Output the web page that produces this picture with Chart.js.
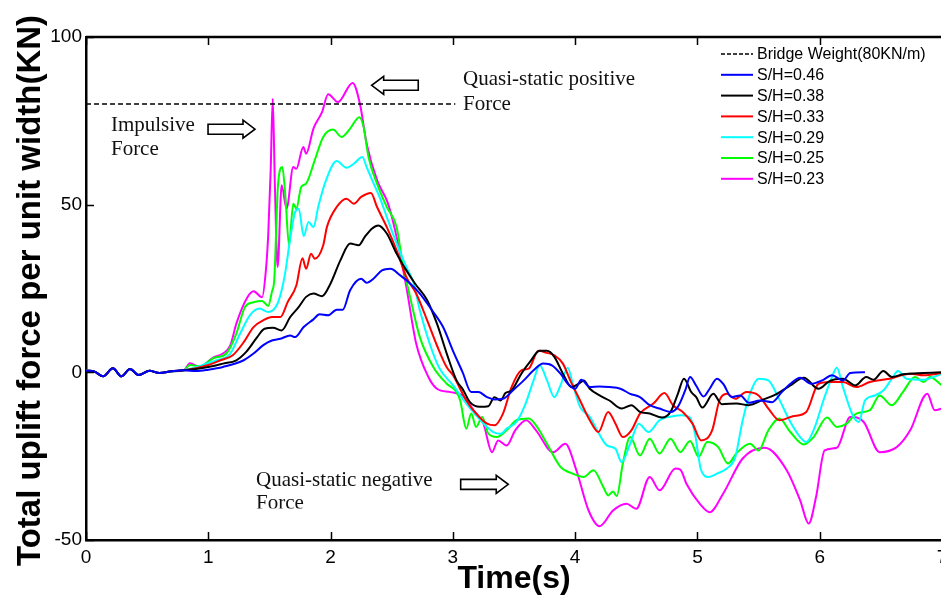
<!DOCTYPE html>
<html>
<head>
<meta charset="utf-8">
<script src="https://cdn.jsdelivr.net/npm/chart.js@4.4.1/dist/chart.umd.min.js"></script>
<style>
  html, body { margin: 0; padding: 0; background: #fff; overflow: hidden; }
  #wrap { width: 960px; height: 598px; }
</style>
</head>
<body>
<div id="wrap"><canvas id="upliftChart" width="960" height="598"></canvas></div>
<script>
// time (s) / uplift force (KN per unit width) pairs for each S/H run
const xTicks = [0, 1, 2, 3, 4, 5, 6, 7];
const yTicks = [-50, 0, 50, 100];

const bridgeWeight = [[0, 80], [3.02, 80]];

// all runs sit together before the wave reaches the deck
const calmStart = [[0, 0.5], [0.07, 0.2], [0.14, -1.2], [0.22, 1.2], [0.29, -1.2], [0.36, 1.0],
  [0.43, -0.8], [0.52, 0.5], [0.6, -0.2], [0.7, 0.3], [0.8, 0.6]];

const sh046 = calmStart.concat([[0.9, 0.4], [1.0, 0.8], [1.12, 1.6], [1.29, 3.6], [1.37, 5.6], [1.45, 8.1],
  [1.52, 9.5], [1.59, 10.0], [1.67, 11.0], [1.71, 10.5], [1.78, 13.5], [1.86, 15.8], [1.91, 17.3],
  [1.98, 17.0], [2.05, 18.7], [2.10, 18.7], [2.16, 24.5], [2.25, 27.9], [2.295, 26.7], [2.35, 27.9],
  [2.42, 30.4], [2.49, 30.9], [2.57, 28.9], [2.65, 26.5], [2.73, 23.5], [2.83, 18.5], [2.92, 13.5],
  [3.0, 6.5], [3.08, 0], [3.15, -5.9], [3.21, -5.9], [3.28, -7.4], [3.34, -8.1], [3.41, -7.9],
  [3.49, -5.4], [3.58, -2.4], [3.66, 0.6], [3.74, 2.6], [3.81, 2.1], [3.88, -0.4], [3.94, -3.4],
  [4.0, -4.9], [4.05, -2.2], [4.12, -4.4], [4.20, -4.2], [4.28, -4.4], [4.37, -4.9], [4.45, -6.4],
  [4.53, -7.4], [4.61, -9.8], [4.69, -10.8], [4.78, -11.8], [4.84, -10.3], [4.90, -5.4], [4.94, -1.4],
  [4.99, -4.0], [5.05, -7.2], [5.10, -4.9], [5.16, -1.9], [5.21, -3.4], [5.28, -7.4], [5.35, -6.9],
  [5.42, -9.1], [5.51, -8.4], [5.61, -8.9], [5.69, -5.9], [5.76, -3.4], [5.84, -1.6], [5.93, -3.4],
  [6.02, -2.4], [6.10, -0.9], [6.19, -2.4], [6.25, -0.2], [6.37, 0]]);

const sh038 = calmStart.concat([[0.9, 1.0], [1.0, 1.6], [1.12, 2.6], [1.23, 3.6], [1.31, 6.1], [1.40, 10.5],
  [1.46, 13.0], [1.53, 13.3], [1.60, 12.5], [1.67, 16.5], [1.74, 19.5], [1.80, 22.5], [1.86, 23.5],
  [1.93, 22.7], [2.0, 26.5], [2.08, 33.4], [2.16, 38.4], [2.23, 37.9], [2.28, 40.4], [2.34, 42.9],
  [2.39, 43.8], [2.46, 41.4], [2.54, 35.4], [2.62, 30.4], [2.69, 26.5], [2.79, 21.5], [2.87, 14.5],
  [2.95, 5.6], [3.03, -2.4], [3.08, -5.0], [3.14, -8.9], [3.22, -10.3], [3.29, -10.1], [3.34, -7.4],
  [3.39, -8.4], [3.43, -6.2], [3.48, -5.4], [3.56, -0.4], [3.63, 3.1], [3.71, 6.4], [3.77, 6.4],
  [3.83, 4.6], [3.90, -0.4], [3.97, -4.4], [4.03, -3.4], [4.07, -2.4], [4.12, -4.9], [4.20, -6.9],
  [4.28, -8.4], [4.38, -10.8], [4.46, -9.8], [4.53, -11.8], [4.61, -12.3], [4.71, -13.5], [4.78, -11.8],
  [4.84, -6.4], [4.89, -1.9], [4.95, -5.9], [4.99, -7.4], [5.04, -10.5], [5.13, -6.4], [5.20, -9.5],
  [5.32, -9.3], [5.42, -9.8], [5.54, -8.1], [5.65, -6.4], [5.76, -3.9], [5.87, -1.6], [5.99, -4.9],
  [6.08, -2.6], [6.19, -1.9], [6.29, -3.9], [6.38, -1.4], [6.44, -2.2], [6.52, 0.4], [6.59, -1.4],
  [6.68, -0.6], [6.85, -0.2], [7.0, 0]]);

const sh033 = calmStart.concat([[0.9, 1.2], [1.0, 2.2], [1.10, 3.6], [1.20, 5.1], [1.29, 9.0], [1.37, 13.5],
  [1.45, 15.5], [1.52, 16.5], [1.59, 16.5], [1.65, 21.0], [1.72, 25.9], [1.77, 34.0], [1.80, 30.9],
  [1.84, 35.4], [1.87, 33.9], [1.94, 37.9], [1.97, 43.3], [2.05, 49.3], [2.13, 51.8], [2.19, 50.3],
  [2.25, 52.3], [2.33, 53.5], [2.38, 49.3], [2.46, 43.3], [2.54, 36.4], [2.62, 28.4], [2.70, 23.5],
  [2.79, 15.5], [2.87, 8.0], [2.95, 1.5], [3.0, -0.8], [3.11, -8.4], [3.19, -12.3], [3.28, -15.3],
  [3.34, -15.8], [3.41, -12.3], [3.48, -4.4], [3.56, 0.6], [3.62, 1.1], [3.70, 6.4], [3.77, 5.8],
  [3.83, 5.1], [3.90, 2.6], [3.96, -2.4], [4.04, -8.4], [4.12, -14.3], [4.19, -17.8], [4.27, -11.8],
  [4.33, -15.3], [4.39, -19.3], [4.46, -17.3], [4.53, -12.3], [4.64, -9.3], [4.73, -6.2], [4.80, -9.8],
  [4.88, -11.8], [4.96, -15.3], [5.03, -20.3], [5.12, -17.3], [5.18, -8.4], [5.24, -6.4], [5.31, -7.9],
  [5.40, -5.9], [5.50, -6.9], [5.59, -11.3], [5.67, -14.3], [5.78, -13.1], [5.89, -11.8], [5.99, -3.4],
  [6.08, -2.9], [6.19, -2.9], [6.30, -4.4], [6.41, -2.9], [6.57, -1.9], [6.74, -0.4], [6.85, -0.9],
  [7.0, -0.2]]);

const sh029 = calmStart.concat([[0.9, 1.5], [1.0, 2.8], [1.07, 3.6], [1.18, 5.6], [1.26, 11.5], [1.34, 17.0],
  [1.42, 19.0], [1.49, 18.0], [1.56, 20.0], [1.60, 24.5], [1.63, 29.9], [1.67, 39.9], [1.71, 47.8],
  [1.74, 48.8], [1.78, 40.6], [1.82, 44.8], [1.86, 43.3], [1.90, 49.5], [1.96, 57.0], [2.05, 63.0],
  [2.13, 61.0], [2.19, 62.2], [2.26, 64.2], [2.295, 61.2], [2.34, 57.3], [2.40, 52.3], [2.46, 46.3],
  [2.54, 38.4], [2.62, 31.4], [2.68, 26.5], [2.73, 18.5], [2.81, 8.6], [2.89, 1.2], [3.0, -3.8],
  [3.11, -9.3], [3.19, -12.8], [3.28, -16.3], [3.33, -17.8], [3.39, -18.3], [3.44, -16.8], [3.52, -14.8],
  [3.59, -9.8], [3.66, -2.4], [3.71, 2.1], [3.77, -2.4], [3.83, -7.4], [3.88, -3.9], [3.94, 1.4],
  [3.98, -3.4], [4.04, -10.3], [4.12, -13.3], [4.18, -17.3], [4.26, -21.8], [4.33, -22.8], [4.38, -26.8],
  [4.45, -21.3], [4.52, -15.3], [4.60, -17.8], [4.69, -14.3], [4.80, -13.1], [4.87, -12.8], [4.94, -13.5],
  [4.98, -18.3], [5.03, -29.2], [5.09, -31.2], [5.16, -30.2], [5.24, -28.7], [5.31, -25.2], [5.37, -14.3],
  [5.44, -5.4], [5.50, -1.9], [5.58, -2.4], [5.66, -7.4], [5.76, -14.8], [5.84, -19.3], [5.89, -20.8],
  [5.96, -16.3], [6.03, -8.4], [6.10, -1.4], [6.14, 1.4], [6.19, -4.4], [6.27, -12.8], [6.32, -14.8],
  [6.37, -8.4], [6.45, -6.9], [6.52, -5.4], [6.59, -1.9], [6.64, 0.4], [6.71, -1.9], [6.85, -2.2],
  [7.0, -0.4]]);

const sh025 = calmStart.concat([[0.85, 2.2], [0.93, 1.8], [1.04, 4.2], [1.15, 5.7], [1.23, 11.6], [1.30, 19.5],
  [1.37, 20.9], [1.44, 21.3], [1.49, 19.8], [1.52, 24.0], [1.54, 27.9], [1.57, 55.8], [1.605, 61.2],
  [1.63, 52.8], [1.66, 37.9], [1.695, 50.3], [1.72, 48.8], [1.76, 55.3], [1.80, 56.3], [1.87, 63.2],
  [1.94, 70.2], [2.02, 72.4], [2.09, 70.2], [2.16, 72.7], [2.235, 76.1], [2.27, 73.2], [2.31, 64.2],
  [2.38, 56.3], [2.46, 49.3], [2.54, 43.3], [2.59, 32.4], [2.65, 22.5], [2.73, 10.5], [2.84, 1.6],
  [2.95, -3.4], [3.03, -5.9], [3.06, -8.4], [3.11, -16.8], [3.15, -12.3], [3.19, -16.3], [3.24, -13.3],
  [3.29, -18.3], [3.36, -19.3], [3.44, -17.3], [3.52, -14.3], [3.62, -13.8], [3.68, -15.8], [3.77, -21.3],
  [3.88, -28.2], [3.98, -30.2], [4.07, -31.2], [4.15, -29.2], [4.23, -34.2], [4.27, -36.7], [4.31, -35.5],
  [4.34, -36.9], [4.39, -27.2], [4.45, -19.3], [4.53, -24.8], [4.61, -19.8], [4.69, -24.2], [4.78, -19.8],
  [4.86, -23.8], [4.94, -20.5], [5.01, -25.2], [5.08, -20.8], [5.17, -22.3], [5.25, -27.2], [5.32, -24.1],
  [5.43, -21.3], [5.50, -23.3], [5.58, -17.3], [5.67, -13.8], [5.76, -17.8], [5.87, -21.5], [5.95, -19.3],
  [6.06, -13.5], [6.14, -16.3], [6.22, -15.3], [6.30, -12.3], [6.41, -11.3], [6.49, -6.9], [6.59, -9.8],
  [6.68, -5.9], [6.78, -1.4], [6.85, -2.9], [6.90, -1.4], [7.0, -3.9]]);

const sh023 = calmStart.concat([[0.85, 2.7], [0.93, 1.6], [1.04, 4.4], [1.12, 5.6], [1.18, 8.0], [1.23, 14.6],
  [1.32, 22.4], [1.37, 24.2], [1.44, 22.4], [1.47, 30.0], [1.49, 40.9], [1.51, 60.0], [1.527, 81.6],
  [1.545, 55.0], [1.567, 31.4], [1.60, 55.8], [1.64, 48.8], [1.695, 61.2], [1.72, 60.7], [1.777, 67.2],
  [1.80, 65.2], [1.86, 72.7], [1.93, 77.6], [1.98, 82.9], [2.06, 80.6], [2.18, 86.3], [2.24, 80.1],
  [2.295, 68.2], [2.38, 57.3], [2.47, 50.3], [2.54, 40.4], [2.62, 25.4], [2.70, 8.6], [2.80, -1.4],
  [2.87, -4.9], [2.98, -5.9], [3.08, -6.9], [3.17, -11.3], [3.25, -15.3], [3.32, -23.8], [3.37, -20.3],
  [3.44, -21.8], [3.51, -17.3], [3.60, -14.3], [3.68, -17.3], [3.82, -23.8], [3.92, -21.3], [4.01, -29.2],
  [4.11, -41.2], [4.20, -45.9], [4.31, -41.2], [4.42, -39.2], [4.50, -40.7], [4.61, -31.2], [4.69, -35.2],
  [4.82, -28.7], [4.86, -29.0], [4.91, -33.2], [5.02, -39.2], [5.10, -41.7], [5.21, -36.2], [5.37, -25.7],
  [5.55, -22.5], [5.73, -29.2], [5.84, -38.2], [5.91, -45.1], [5.97, -37.2], [6.04, -23.3], [6.14, -22.5],
  [6.25, -13.3], [6.36, -14.8], [6.49, -23.8], [6.63, -22.3], [6.74, -17.3], [6.88, -6.4], [6.94, -11.3],
  [7.0, -10.8]]);

const seriesLabels = ['Bridge Weight(80KN/m)', 'S/H=0.46', 'S/H=0.38', 'S/H=0.33', 'S/H=0.29', 'S/H=0.25', 'S/H=0.23'];
const seriesColors = ['#000000', '#0000ff', '#000000', '#ff0000', '#00ffff', '#00ff00', '#ff00ff'];
const seriesData = [bridgeWeight, sh046, sh038, sh033, sh029, sh025, sh023];

const SANS = "'Liberation Sans', Arial, sans-serif";
const SERIF = "'Liberation Serif', 'Times New Roman', serif";

function toPoints(pairs) {
  return pairs.map(p => ({ x: p[0], y: p[1] }));
}

// block arrow, outlined, pointing from tail to tip
function blockArrow(ctx, tailX, tipX, cy) {
  const dir = tipX > tailX ? 1 : -1;
  const headLen = 12, shaftH = 5, headH = 9;
  const neck = tipX - dir * headLen;
  ctx.beginPath();
  ctx.moveTo(tailX, cy - shaftH);
  ctx.lineTo(neck, cy - shaftH);
  ctx.lineTo(neck, cy - headH);
  ctx.lineTo(tipX, cy);
  ctx.lineTo(neck, cy + headH);
  ctx.lineTo(neck, cy + shaftH);
  ctx.lineTo(tailX, cy + shaftH);
  ctx.closePath();
  ctx.fillStyle = '#fff';
  ctx.fill();
  ctx.lineWidth = 1.6;
  ctx.strokeStyle = '#000';
  ctx.stroke();
}

// notes placed in data coordinates: [text, time, force]
const notes = [
  ['Impulsive', 0.204, 71.9],
  ['Force', 0.204, 64.7],
  ['Quasi-static positive', 3.083, 85.6],
  ['Force', 3.083, 78.1],
  ['Quasi-static negative', 1.39, -34.0],
  ['Force', 1.39, -40.9]
];
// arrows: [tail time, tip time, force]
const arrows = [
  [0.998, 1.382, 72.5],
  [2.717, 2.336, 85.6],
  [3.064, 3.453, -33.4]
];

const decorations = {
  id: 'decorations',
  afterDatasetsDraw(chart) {
    const { ctx, chartArea: a, scales: { x, y } } = chart;
    ctx.save();

    // top frame line
    ctx.strokeStyle = '#000';
    ctx.lineWidth = 2.5;
    ctx.beginPath();
    ctx.moveTo(a.left, a.top);
    ctx.lineTo(a.right + 2, a.top);
    ctx.stroke();

    // inward tick marks
    ctx.lineWidth = 1.5;
    ctx.beginPath();
    xTicks.forEach(v => {
      const px = Math.round(x.getPixelForValue(v)) + 0.5;
      ctx.moveTo(px, a.bottom); ctx.lineTo(px, a.bottom - 8);
      ctx.moveTo(px, a.top); ctx.lineTo(px, a.top + 8);
    });
    yTicks.forEach(v => {
      const py = Math.round(y.getPixelForValue(v)) + 0.5;
      ctx.moveTo(a.left, py); ctx.lineTo(a.left + 8, py);
    });
    ctx.stroke();

    // notes (the lowest line is cut off just above the axis)
    ctx.fillStyle = '#111';
    ctx.font = '21px ' + SERIF;
    ctx.textAlign = 'left';
    ctx.textBaseline = 'alphabetic';
    ctx.save();
    ctx.beginPath();
    ctx.rect(0, 0, chart.width, y.getPixelForValue(-40.6));
    ctx.clip();
    notes.forEach(n => ctx.fillText(n[0], x.getPixelForValue(n[1]), y.getPixelForValue(n[2])));
    ctx.restore();
    arrows.forEach(r => blockArrow(ctx, x.getPixelForValue(r[0]), x.getPixelForValue(r[1]), y.getPixelForValue(r[2])));

    // legend
    ctx.font = '16px ' + SANS;
    ctx.textBaseline = 'middle';
    chart.data.datasets.forEach((ds, i) => {
      const ly = 54 + i * 20.8;
      ctx.strokeStyle = ds.borderColor;
      ctx.lineWidth = i === 0 ? 1.5 : 2;
      ctx.setLineDash(i === 0 ? [4, 2] : []);
      ctx.beginPath();
      ctx.moveTo(721, ly);
      ctx.lineTo(753, ly);
      ctx.stroke();
      ctx.setLineDash([]);
      ctx.fillStyle = '#000';
      ctx.fillText(ds.label, 757, ly + 1);
    });

    // axis titles
    ctx.fillStyle = '#000';
    ctx.font = 'bold 32px ' + SANS;
    ctx.textAlign = 'center';
    ctx.textBaseline = 'alphabetic';
    ctx.fillText('Time(s)', (a.left + a.right) / 2, 588);
    ctx.translate(40, (a.top + a.bottom) / 2 + 2);
    ctx.rotate(-Math.PI / 2);
    ctx.font = 'bold 33px ' + SANS;
    ctx.fillText('Total uplift force per unit width(KN)', 0, 0);
    ctx.restore();
  }
};

const datasets = seriesData.map((d, i) => ({
  label: seriesLabels[i],
  data: toPoints(d),
  borderColor: seriesColors[i],
  borderWidth: i === 0 ? 1.6 : 2,
  borderDash: i === 0 ? [5, 3] : [],
  pointRadius: 0,
  fill: false,
  cubicInterpolationMode: 'monotone'
}));

new Chart(document.getElementById('upliftChart'), {
  type: 'line',
  data: { datasets: datasets },
  options: {
    responsive: false,
    animation: false,
    devicePixelRatio: 1,
    layout: { padding: { top: 37, right: 18, left: 0, bottom: 0 } },
    plugins: { legend: { display: false }, tooltip: { enabled: false } },
    scales: {
      x: {
        type: 'linear',
        min: 0,
        max: 7,
        afterFit: s => { s.height = 58; },
        grid: { display: false, drawTicks: false },
        border: { display: true, color: '#000', width: 2.5 },
        ticks: { stepSize: 1, padding: 6, color: '#000', font: { family: SANS, size: 19 } }
      },
      y: {
        min: -50,
        max: 100,
        afterFit: s => { s.width = 86; },
        grid: { display: false, drawTicks: false },
        border: { display: true, color: '#000', width: 2.5 },
        ticks: { stepSize: 50, padding: 4, color: '#000', font: { family: SANS, size: 19 } }
      }
    }
  },
  plugins: [decorations]
});
</script>
</body>
</html>
